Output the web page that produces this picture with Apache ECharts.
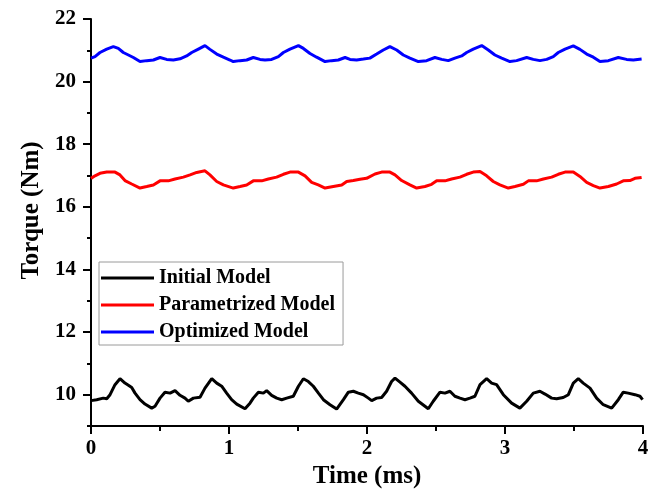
<!DOCTYPE html>
<html>
<head>
<meta charset="utf-8">
<script src="https://cdn.jsdelivr.net/npm/echarts@6/dist/echarts.min.js"></script>
<style>
  html, body { margin: 0; padding: 0; background: #fff; }
  #chart { width: 656px; height: 491px; }
</style>
</head>
<body>
<div id="chart"></div>
<script>
// Torque traces (time in ms, torque in Nm)
const initialTime = [0, 0.041, 0.089, 0.114, 0.138, 0.174, 0.210, 0.246, 0.271, 0.295, 0.319, 0.355, 0.391, 0.440, 0.464, 0.500, 0.536, 0.573, 0.609, 0.645, 0.681, 0.705, 0.742, 0.790, 0.826, 0.875, 0.911, 0.947, 0.983, 1.019, 1.056, 1.116, 1.152, 1.176, 1.213, 1.249, 1.273, 1.309, 1.346, 1.382, 1.418, 1.466, 1.503, 1.539, 1.575, 1.611, 1.648, 1.684, 1.732, 1.780, 1.829, 1.865, 1.901, 1.937, 1.974, 2.010, 2.034, 2.070, 2.106, 2.142, 2.178, 2.203, 2.239, 2.275, 2.323, 2.372, 2.420, 2.444, 2.480, 2.529, 2.565, 2.601, 2.637, 2.674, 2.710, 2.746, 2.782, 2.819, 2.867, 2.903, 2.939, 2.988, 3.048, 3.108, 3.157, 3.205, 3.253, 3.290, 3.338, 3.374, 3.422, 3.459, 3.495, 3.531, 3.567, 3.616, 3.664, 3.712, 3.773, 3.821, 3.857, 3.893, 3.942, 3.978, 3.997];
const initialTorque = [9.81, 9.84, 9.89, 9.87, 10.00, 10.32, 10.51, 10.37, 10.30, 10.23, 10.05, 9.84, 9.70, 9.57, 9.63, 9.89, 10.08, 10.05, 10.13, 9.98, 9.89, 9.79, 9.89, 9.92, 10.21, 10.51, 10.37, 10.27, 10.05, 9.84, 9.70, 9.55, 9.73, 9.89, 10.08, 10.05, 10.13, 9.98, 9.89, 9.84, 9.89, 9.95, 10.27, 10.51, 10.42, 10.27, 10.05, 9.84, 9.68, 9.54, 9.84, 10.08, 10.11, 10.05, 10.00, 9.89, 9.81, 9.89, 9.91, 10.11, 10.42, 10.53, 10.40, 10.27, 10.05, 9.79, 9.63, 9.55, 9.79, 10.08, 10.05, 10.11, 9.95, 9.89, 9.84, 9.89, 9.95, 10.32, 10.51, 10.37, 10.32, 10.00, 9.73, 9.57, 9.79, 10.05, 10.11, 10.02, 9.89, 9.87, 9.91, 10.00, 10.37, 10.51, 10.37, 10.21, 9.89, 9.68, 9.57, 9.84, 10.08, 10.05, 10.00, 9.95, 9.84];

const parametrizedTime = [0, 0.029, 0.065, 0.114, 0.174, 0.210, 0.246, 0.295, 0.355, 0.404, 0.452, 0.500, 0.560, 0.609, 0.669, 0.718, 0.766, 0.826, 0.862, 0.911, 0.959, 1.031, 1.080, 1.128, 1.176, 1.237, 1.285, 1.345, 1.394, 1.442, 1.503, 1.551, 1.599, 1.647, 1.696, 1.756, 1.817, 1.853, 1.901, 1.949, 1.997, 2.058, 2.106, 2.166, 2.203, 2.251, 2.311, 2.360, 2.420, 2.468, 2.505, 2.565, 2.613, 2.674, 2.722, 2.770, 2.819, 2.867, 2.915, 2.963, 3.024, 3.072, 3.133, 3.169, 3.229, 3.278, 3.338, 3.386, 3.435, 3.495, 3.543, 3.592, 3.640, 3.688, 3.749, 3.809, 3.857, 3.905, 3.942, 3.990];
const parametrizedTorque = [16.91, 16.99, 17.07, 17.11, 17.11, 17.02, 16.84, 16.73, 16.60, 16.65, 16.70, 16.83, 16.83, 16.89, 16.95, 17.02, 17.10, 17.15, 17.02, 16.81, 16.70, 16.60, 16.65, 16.70, 16.83, 16.83, 16.89, 16.95, 17.04, 17.11, 17.11, 16.99, 16.78, 16.70, 16.60, 16.65, 16.70, 16.81, 16.84, 16.88, 16.91, 17.05, 17.11, 17.11, 17.02, 16.84, 16.70, 16.60, 16.65, 16.72, 16.83, 16.83, 16.89, 16.95, 17.04, 17.11, 17.13, 16.99, 16.81, 16.70, 16.60, 16.65, 16.72, 16.83, 16.83, 16.89, 16.95, 17.04, 17.11, 17.11, 16.97, 16.78, 16.68, 16.60, 16.65, 16.73, 16.83, 16.84, 16.91, 16.94];

const optimizedTime = [0, 0.029, 0.065, 0.114, 0.162, 0.198, 0.234, 0.271, 0.307, 0.355, 0.404, 0.452, 0.500, 0.548, 0.597, 0.645, 0.693, 0.730, 0.778, 0.826, 0.862, 0.911, 0.959, 1.007, 1.031, 1.080, 1.128, 1.176, 1.225, 1.261, 1.309, 1.358, 1.394, 1.442, 1.503, 1.539, 1.587, 1.635, 1.696, 1.744, 1.792, 1.841, 1.877, 1.925, 1.974, 2.021, 2.070, 2.118, 2.166, 2.215, 2.263, 2.311, 2.372, 2.432, 2.492, 2.541, 2.589, 2.637, 2.686, 2.722, 2.770, 2.831, 2.879, 2.927, 2.976, 3.036, 3.084, 3.157, 3.205, 3.253, 3.302, 3.350, 3.386, 3.435, 3.495, 3.543, 3.592, 3.640, 3.688, 3.749, 3.821, 3.881, 3.930, 3.990];
const optimizedTorque = [20.75, 20.80, 20.93, 21.04, 21.12, 21.06, 20.93, 20.85, 20.77, 20.64, 20.67, 20.69, 20.77, 20.71, 20.69, 20.73, 20.82, 20.93, 21.04, 21.15, 21.03, 20.88, 20.78, 20.69, 20.64, 20.67, 20.69, 20.77, 20.71, 20.69, 20.71, 20.80, 20.93, 21.04, 21.15, 21.06, 20.90, 20.78, 20.64, 20.67, 20.69, 20.77, 20.71, 20.69, 20.72, 20.75, 20.88, 21.01, 21.12, 21.01, 20.85, 20.75, 20.64, 20.67, 20.77, 20.71, 20.67, 20.75, 20.82, 20.93, 21.04, 21.15, 21.01, 20.85, 20.75, 20.64, 20.67, 20.77, 20.71, 20.67, 20.71, 20.80, 20.93, 21.04, 21.14, 21.03, 20.88, 20.78, 20.64, 20.67, 20.77, 20.71, 20.69, 20.72];

const seriesNames = ['Initial Model', 'Parametrized Model', 'Optimized Model'];
const seriesColors = ['#000000', '#ff0000', '#0000ff'];
const yMajorTicks = [10, 12, 14, 16, 18, 20, 22];
const yMinorTicks = [9, 11, 13, 15, 17, 19, 21];

const pair = (ts, vs) => ts.map((t, i) => [t, vs[i]]);
const traces = [
  pair(initialTime, initialTorque),
  pair(parametrizedTime, parametrizedTorque),
  pair(optimizedTime, optimizedTorque)
];

const FONT = '"Liberation Serif", "Times New Roman", serif';
const axisLineStyle = { color: '#000', width: 2 };

const chart = echarts.init(document.getElementById('chart'), null, { renderer: 'canvas' });
chart.setOption({
  animation: false,
  backgroundColor: '#ffffff',
  grid: { left: 91, right: 13, top: 19, bottom: 65, outerBoundsMode: 'none' },
  legend: {
    left: 99, top: 262,
    orient: 'vertical',
    data: seriesNames,
    icon: 'rect',
    itemWidth: 53, itemHeight: 3,
    itemGap: 7,
    padding: [6, 8, 3, 2],
    borderColor: '#9a9a9a', borderWidth: 1,
    textStyle: { fontFamily: FONT, fontWeight: 'bold', fontSize: 20, color: '#000', lineHeight: 20 }
  },
  xAxis: {
    type: 'value', min: 0, max: 4, interval: 1,
    axisLine: { lineStyle: axisLineStyle },
    axisTick: { length: 8, lineStyle: { color: '#000', width: 2 } },
    minorTick: { show: true, splitNumber: 2, length: 5, lineStyle: { color: '#000', width: 2 } },
    splitLine: { show: false },
    axisLabel: { margin: 12, fontFamily: FONT, fontWeight: 'bold', fontSize: 21, color: '#000' },
    name: 'Time (ms)', nameLocation: 'middle', nameGap: 36,
    nameTextStyle: { fontFamily: FONT, fontWeight: 'bold', fontSize: 25, color: '#000' }
  },
  yAxis: [
    {
      type: 'value', min: 9, max: 22, interval: 1,
      axisLine: { show: true, lineStyle: axisLineStyle },
      axisTick: { show: true, length: 8, customValues: yMajorTicks, lineStyle: { color: '#000', width: 2 } },
      splitLine: { show: false },
      axisLabel: { margin: 15, customValues: yMajorTicks, fontFamily: FONT, fontWeight: 'bold', fontSize: 21, color: '#000' },
      name: 'Torque (Nm)', nameLocation: 'middle', nameGap: 45,
      nameTextStyle: { fontFamily: FONT, fontWeight: 'bold', fontSize: 25, color: '#000', padding: [0, 0, 0, 24] }
    },
    {
      type: 'value', min: 9, max: 22, interval: 1, position: 'left',
      axisLine: { show: false },
      axisTick: { show: true, length: 4, customValues: yMinorTicks, lineStyle: { color: '#000', width: 2 } },
      splitLine: { show: false },
      axisLabel: { show: false }
    }
  ],
  series: seriesNames.map((name, i) => ({
    name,
    type: 'line',
    data: traces[i],
    showSymbol: false,
    symbol: 'none',
    itemStyle: { color: seriesColors[i] },
    lineStyle: { color: seriesColors[i], width: 3 }
  }))
});
</script>
</body>
</html>
